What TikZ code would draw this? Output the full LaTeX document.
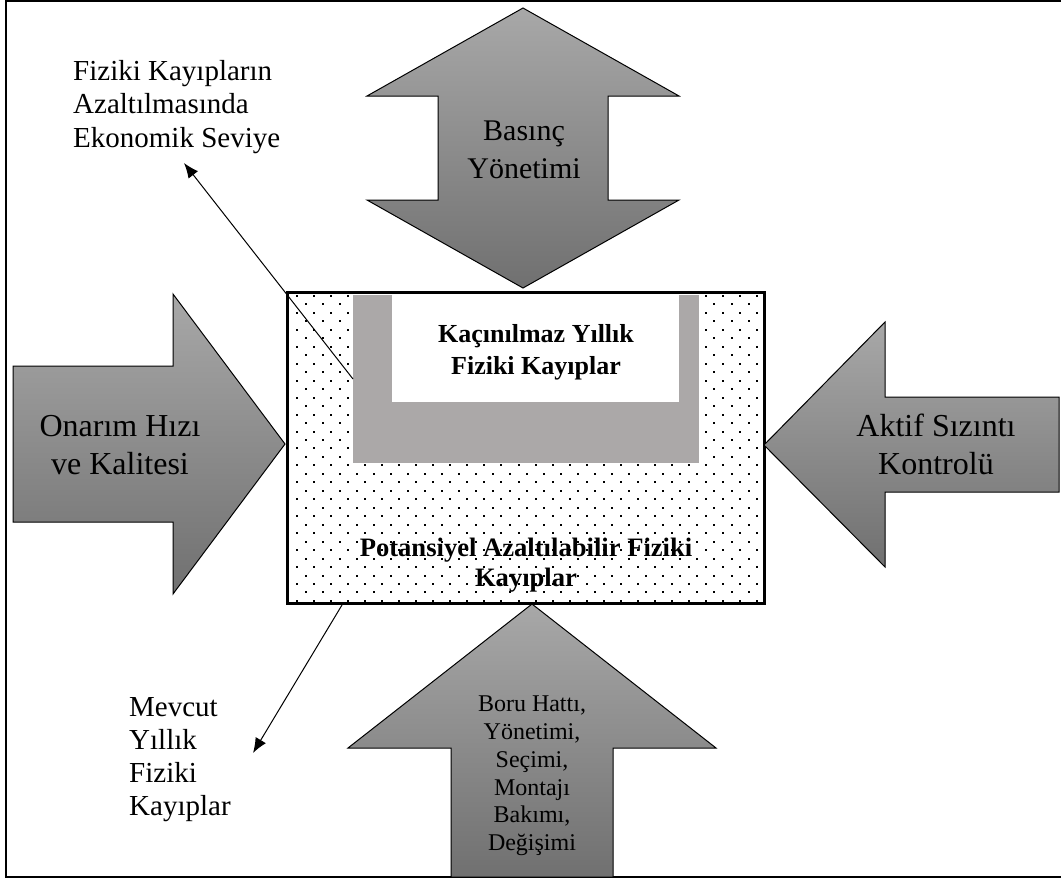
\documentclass[tikz,border=0pt]{standalone}
\usepackage{fontspec}
\setmainfont{Liberation Serif}
\usetikzlibrary{arrows.meta}
\definecolor{ugray}{RGB}{171,168,168}
\definecolor{gtop}{RGB}{168,168,168}
\definecolor{gbot}{RGB}{112,112,112}
\newcommand{\clines}[1]{\begin{tabular}[t]{@{}c@{}}#1\end{tabular}}
\newcommand{\llines}[1]{\begin{tabular}[t]{@{}l@{}}#1\end{tabular}}
\begin{document}
\begin{tikzpicture}[x=1pt,y=-1pt,
  bigarrow/.style={draw=black, line width=1pt, top color=gtop, bottom color=gbot},
  lbl/.style={inner sep=0pt, anchor=base},
  annlbl/.style={inner sep=0pt, anchor=base west},
  ann/.style={line width=1pt, -{Latex[length=15pt,width=12pt]}}]
\useasboundingbox (0,0) rectangle (1061,881);
% outer frame (left, top, bottom)
\draw[line width=2pt] (1061,1) -- (6,1) -- (6,877) -- (1061,877);
% central box
\fill[white] (287,292) rectangle (764,603);
\begin{scope}
  \clip (288.5,293.5) rectangle (762.5,601.5);
  \foreach \j in {0,...,36}{
    \pgfmathsetmacro{\off}{mod(\j,2)*8.52}
    \foreach \k in {-1,...,28}{
      \fill ({296+\off+17.04*\k},{295+8.47*\j}) rectangle ++(2,2);
    }}
\end{scope}
\fill[ugray] (353,295) rectangle (699,463);
\fill[white] (392,295) rectangle (679,402);
\draw[line width=3pt] (287,292) rectangle (764,603);
\coordinate (uedge) at (353,379);
\coordinate (boxbot) at (342,605);
\node[lbl, font=\bfseries\fontsize{26}{31.6}\selectfont] (kacin) at (536,342.7)
  {\clines{Kaçınılmaz Yıllık\\Fiziki Kayıplar}};
\node[lbl, font=\bfseries\fontsize{26.6}{30}\selectfont] (potan) at (526,556.7)
  {\clines{Potansiyel Azaltılabilir Fiziki\\Kayıplar}};
% annotations
\node[annlbl, font=\fontsize{29}{33.5}\selectfont] (econ) at (73,80)
  {\llines{Fiziki Kayıpların\\Azaltılmasında\\Ekonomik Seviye}};
\node[annlbl, font=\fontsize{29}{33}\selectfont] (mevcut) at (129,716.7)
  {\llines{Mevcut\\Yıllık\\Fiziki\\Kayıplar}};
\coordinate (econtip) at (184,163);
\coordinate (mevtip) at (253,753);
\draw[ann] (uedge) -- (econtip);
\draw[ann] (boxbot) -- (mevtip);
% big arrows
\draw[bigarrow] (523,8) -- (679,96) -- (608,96) -- (608,200) -- (679,200) -- (523,288)
  -- (367,200) -- (438,200) -- (438,96) -- (367,96) -- cycle;
\node[lbl, font=\fontsize{30}{38}\selectfont] (basinc) at (524,140) {\clines{Basınç\\Yönetimi}};
\draw[bigarrow] (13,366) -- (173,366) -- (173,294) -- (285,444) -- (173,594) -- (173,522)
  -- (13,522) -- cycle;
\node[lbl, font=\fontsize{32}{37.5}\selectfont] (onarim) at (120,436.7) {\clines{Onarım Hızı\\ve Kalitesi}};
\draw[bigarrow] (764,445) -- (885,322) -- (885,397) -- (1059,397) -- (1059,492) -- (885,492)
  -- (885,567) -- cycle;
\node[lbl, font=\fontsize{32}{38}\selectfont] (aktif) at (936,436.7) {\clines{Aktif Sızıntı\\Kontrolü}};
\draw[bigarrow] (532,604) -- (716,748) -- (613,748) -- (613,877) -- (451,877) -- (451,748)
  -- (348,748) -- cycle;
\node[lbl, font=\fontsize{24}{27.8}\selectfont] (boru) at (532,711.7)
  {\clines{Boru Hattı,\\Yönetimi,\\Seçimi,\\Montajı\\Bakımı,\\Değişimi}};
\end{tikzpicture}
\end{document}
